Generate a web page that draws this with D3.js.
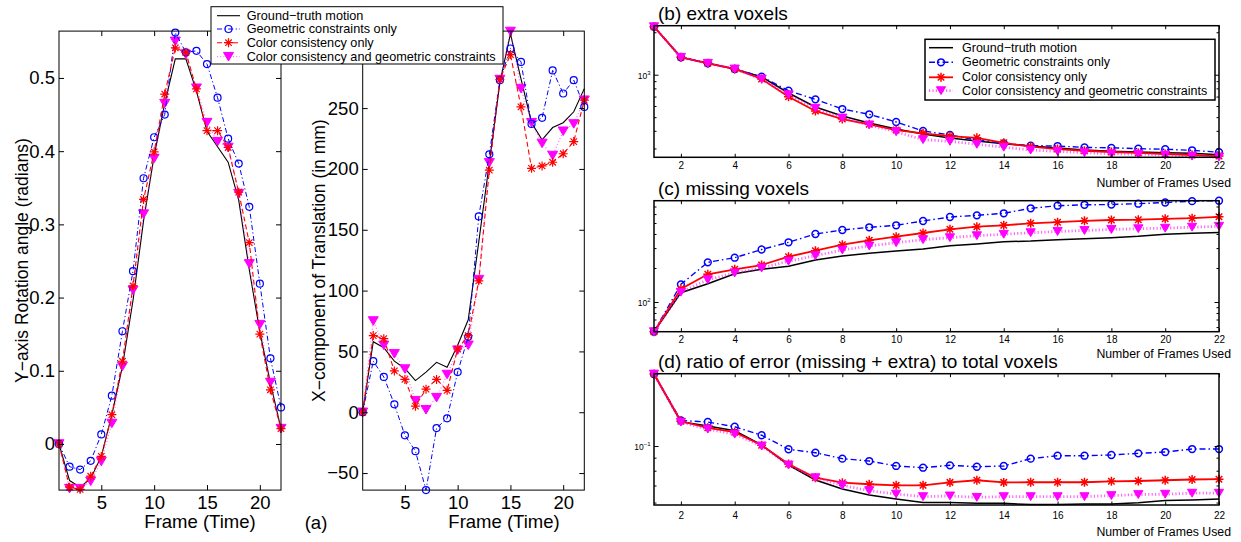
<!DOCTYPE html>
<html><head><meta charset="utf-8">
<script src="https://cdn.jsdelivr.net/npm/d3@7"></script>
<style>
body{margin:0;background:#fff}
svg{display:block}
text{font-family:"Liberation Sans",Arial,Helvetica,sans-serif;fill:#000}
</style>
</head><body>
<svg id="c" width="1241" height="542"></svg>
<script>
// ---------------- DATA ----------------
const frames = [1,2,3,4,5,6,7,8,9,10,11,12,13,14,15,16,17,18,19,20,21,22];
const frameTicks = [5,10,15,20];
const rotTicks = [0,0.1,0.2,0.3,0.4,0.5];
const transTicks = [-50,0,50,100,150,200,250];
const usedTicks = [2,4,6,8,10,12,14,16,18,20,22];
const legendLabels = ["Ground\u2212truth motion","Geometric constraints only","Color consistency only","Color consistency and geometric constraints"];

// (a) left: Y-axis rotation angle (radians)
const rotGT    = [0,-0.050,-0.059,-0.047,-0.017,0.040,0.106,0.196,0.305,0.394,0.465,0.526,0.526,0.482,0.427,0.406,0.385,0.333,0.238,0.153,0.083,0.021];
const rotGeo   = [0,-0.031,-0.035,-0.023,0.013,0.066,0.154,0.236,0.363,0.419,0.450,0.562,0.535,0.537,0.519,0.473,0.417,0.383,0.324,0.219,0.117,0.050];
const rotColor = [0,-0.059,-0.062,-0.044,-0.017,0.040,0.113,0.216,0.334,0.399,0.478,0.541,0.535,0.485,0.428,0.428,0.405,0.344,0.275,0.150,0.074,0.021];
const rotBoth  = [0,-0.061,-0.061,-0.051,-0.024,0.028,0.106,0.210,0.314,0.390,0.465,0.550,0.532,0.486,0.439,0.413,0.405,0.342,0.246,0.163,0.084,0.021];

// (a) right: X-component of translation (mm)
const transGT    = [0,58,53,42,36,26,33,41,37,55,76,140,205,271,311,274,238,224,234,238,247,266];
const transGeo   = [0,42,29,6.5,-19,-32,-64,-13,-5,33,62,161,212,273,299,288,237,242,281,262,273,251];
const transColor = [0,63,60.5,34,27,5,19,27,18,52,63,108,199,273.5,294,251,200.5,202.5,205.5,212.5,222.5,256.5];
const transBoth  = [0,75,55,48,35.5,9.5,2,12,31,51,55,109,205,273.5,313,266,238,221,211,231,237,256.5];

// (b) extra voxels
const extraGT    = [2190,1329,1205,1098,963,742,590,509,454,412,380,356,339,324,312,302,292,286,283,280,277,271];
const extraGeo   = [2190,1329,1205,1098,968,770,669,571,524,462,399,374,344,326,314,312,305,303,299,296,291,282];
const extraColor = [2190,1329,1205,1098,932,698,553,485,445,405,384,367,357,329,309,297,289,283,279,274,269.5,265];
const extraBoth  = [2190,1329,1205,1098,932,721,578,493,440,394,346,337,321,306,292,286,280,275,273,269.5,265,261];

// (c) missing voxels
const missGT    = [54.6,120.9,145.2,178,194.7,207,235.3,255.3,269.8,282.7,294.4,315,326.1,341.7,346.6,355.9,363.3,370.7,381.4,397.3,405.5,412.1];
const missGeo   = [54.6,143.4,224.5,246.6,291.4,337.6,399.7,433.7,458.2,477.3,521,565.1,585.1,609.5,674.9,711.6,724.8,729.2,741.2,759.5,781,788];
const missColor = [54.6,130.3,175.9,194.7,212.5,251.7,284.4,321.5,351.6,378.4,407.9,439.9,463.8,477.3,497.2,508.5,523.1,531.7,535,544.9,551.6,567.5];
const missBoth  = [54.6,122.1,157.5,180.6,199.9,229.7,256.9,288.5,313.1,334.9,355.9,370.7,386.2,397.3,410.5,420.7,429.3,438.1,445.3,449.9,459.2,467.7];

// (d) ratio of error to total voxels
const ratioGT    = [0.1915,0.1245,0.1198,0.1148,0.1009,0.0842,0.0736,0.0678,0.0643,0.0620,0.0601,0.0601,0.0596,0.0596,0.0589,0.0589,0.0592,0.0592,0.0599,0.0611,0.0614,0.0619];
const ratioGeo   = [0.1915,0.1259,0.1242,0.1190,0.1102,0.0971,0.0941,0.0892,0.0873,0.0835,0.0822,0.0840,0.0829,0.0835,0.0892,0.0916,0.0916,0.0922,0.0936,0.0947,0.0973,0.0973];
const ratioColor = [0.1915,0.1250,0.1179,0.1133,0.1007,0.0850,0.0751,0.0718,0.0708,0.0701,0.0701,0.0720,0.0734,0.0720,0.0721,0.0721,0.0721,0.0727,0.0729,0.0734,0.0739,0.0741];
const ratioBoth  = [0.1915,0.1240,0.1164,0.1113,0.1000,0.0842,0.0751,0.0701,0.0668,0.0648,0.0633,0.0637,0.0629,0.0633,0.0633,0.0633,0.0633,0.0639,0.0645,0.0647,0.0653,0.0653];

// ---------------- STYLES ----------------
const styleA = [
  {color:'#000', width:1.1},
  {color:'#0000ff', width:1, dash:'5,2.5,1.2,2.5', marker:'circle', msize:3.5, mwidth:1.2},
  {color:'#ff0000', width:1.1, dash:'5,3', marker:'star', msize:4.5, mwidth:1.2},
  {color:'#ff00ff', width:1.3, dash:'1,2.2', lineOpacity:0.55, marker:'tri', msize:5, mwidth:1}
];
const styleB = [
  {color:'#000', width:1.5},
  {color:'#0000ff', width:1.4, dash:'6,3,1.5,3', marker:'circle', msize:3.4, mwidth:1.5},
  {color:'#ff0000', width:1.8, marker:'star', msize:4.5, mwidth:1.5},
  {color:'#ff00ff', width:2.8, dash:'1.2,2.2', lineOpacity:0.6, marker:'tri', msize:4.6, mwidth:1}
];

const svg = d3.select('#c');
const numFmt = d => (d < 0 ? '\u2212' : '') + String(Math.abs(d));

function drawMarker(g, type, cx, cy, s, color, sw){
  if(type==='circle'){
    g.append('circle').attr('cx',cx).attr('cy',cy).attr('r',s).attr('fill','none').attr('stroke',color).attr('stroke-width',sw);
  } else if(type==='star'){
    const k = s*0.72;
    g.append('path').attr('transform',`translate(${cx},${cy})`)
      .attr('d',`M${-s},0H${s}M0,${-s}V${s}M${-k},${-k}L${k},${k}M${-k},${k}L${k},${-k}`)
      .attr('fill','none').attr('stroke',color).attr('stroke-width',sw);
  } else if(type==='tri'){
    const h = s*0.85;
    g.append('path').attr('transform',`translate(${cx},${cy})`)
      .attr('d',`M${-s},${-h}L${s},${-h}L0,${h}Z`)
      .attr('fill',color).attr('stroke',color).attr('stroke-width',sw).attr('stroke-linejoin','round');
  }
}

function drawSeries(g, x, y, vals, st){
  const line = d3.line().x((d,i)=>x(frames[i])).y(d=>y(d));
  g.append('path').attr('d',line(vals)).attr('fill','none')
    .attr('stroke',st.color).attr('stroke-width',st.width)
    .attr('stroke-dasharray',st.dash||null)
    .attr('stroke-opacity',st.lineOpacity||1);
  if(st.marker) vals.forEach((v,i)=>drawMarker(g, st.marker, x(frames[i]), y(v), st.msize, st.color, st.mwidth));
}

function styleAxisText(g, size){
  g.selectAll('text').attr('font-size',size).attr('font-family','"Liberation Sans",Arial,sans-serif').attr('fill','#000');
  g.select('.domain').remove();
  g.selectAll('line').attr('stroke','#000');
}

// ---------- (a) frame plots ----------
function framePlot(box, yDomain, yTicks, seriesVals, order, ylabel, ylabelX, xlabelX){
  const g = svg.append('g');
  const x = d3.scaleLinear().domain([1,22]).range([box.l, box.r]);
  const y = d3.scaleLinear().domain(yDomain).range([box.b, box.t]);
  order.forEach(i=>drawSeries(g, x, y, seriesVals[i], styleA[i]));
  g.append('rect').attr('x',box.l).attr('y',box.t).attr('width',box.r-box.l).attr('height',box.b-box.t)
    .attr('fill','none').attr('stroke','#000').attr('stroke-width',1);
  const ax = g.append('g').attr('transform',`translate(0,${box.b})`)
    .call(d3.axisBottom(x).tickValues(frameTicks).tickSize(-5).tickPadding(5.5).tickFormat(numFmt));
  styleAxisText(ax, 18.5);
  const axt = g.append('g').attr('transform',`translate(0,${box.t})`)
    .call(d3.axisTop(x).tickValues(frameTicks).tickSize(-5).tickFormat(''));
  styleAxisText(axt, 10);
  const ay = g.append('g').attr('transform',`translate(${box.l},0)`)
    .call(d3.axisLeft(y).tickValues(yTicks).tickSize(-5).tickPadding(4).tickFormat(numFmt));
  styleAxisText(ay, 18.5);
  const ayr = g.append('g').attr('transform',`translate(${box.r},0)`)
    .call(d3.axisRight(y).tickValues(yTicks).tickSize(-5).tickFormat(''));
  styleAxisText(ayr, 10);
  g.append('text').attr('transform',`translate(${ylabelX},${(box.t+box.b)/2}) rotate(-90)`)
    .attr('text-anchor','middle').attr('dominant-baseline','central').attr('font-size',17.5).text(ylabel);
  g.append('text').attr('x',xlabelX).attr('y',528).attr('text-anchor','middle').attr('font-size',18.5).text('Frame (Time)');
}

framePlot({l:59,r:281,t:31.1,b:490.1}, [-0.063,0.564], rotTicks,
  [rotGT,rotGeo,rotColor,rotBoth], [0,3,1,2], 'Y\u2212axis Rotation angle (radians)', 21.7, 200);
framePlot({l:362.7,r:584.3,t:31.1,b:490.1}, [-64,313.3], transTicks,
  [transGT,transGeo,transColor,transBoth], [0,3,1,2], 'X\u2212component of Translation (in mm)', 318.5, 504);
svg.append('text').attr('x',316).attr('y',529).attr('text-anchor','middle').attr('font-size',18.5).text('(a)');

// legend
function legend(lx0, ly0, lx1, ly1, rows, sx0, sx1, tx, fs, styles, bw){
  const g = svg.append('g');
  g.append('rect').attr('x',lx0).attr('y',ly0).attr('width',lx1-lx0).attr('height',ly1-ly0)
    .attr('fill','#fff').attr('stroke','#000').attr('stroke-width',bw);
  legendLabels.forEach((lab,i)=>{
    const st = styles[i], yy = rows[i];
    g.append('line').attr('x1',sx0).attr('x2',sx1).attr('y1',yy).attr('y2',yy)
      .attr('stroke',st.color).attr('stroke-width',st.width).attr('stroke-dasharray',st.dash||null)
      .attr('stroke-opacity',st.lineOpacity||1);
    if(st.marker) drawMarker(g, st.marker, (sx0+sx1)/2, yy, st.msize, st.color, st.mwidth);
    g.append('text').attr('x',tx).attr('y',yy).attr('dominant-baseline','central').attr('font-size',fs).text(lab);
  });
}
legend(211, 6.7, 503, 64, [15.7,29,42.7,56.7], 217, 240, 246.7, 12.7, styleA, 1);

// ---------- (b)(c)(d) log panels ----------
function logPanel(box, yDomain, major, base, exp, seriesVals, title, titleY, usedY, tickPad){
  const g = svg.append('g');
  const x = d3.scaleLinear().domain([1,22]).range([box.l, box.r]);
  const y = d3.scaleLog().domain(yDomain).range([box.b, box.t]);
  [0,1,2,3].forEach(i=>drawSeries(g, x, y, seriesVals[i], styleB[i]));
  g.append('rect').attr('x',box.l).attr('y',box.t).attr('width',box.r-box.l).attr('height',box.b-box.t)
    .attr('fill','none').attr('stroke','#000').attr('stroke-width',1.5);
  const ax = g.append('g').attr('transform',`translate(0,${box.b})`)
    .call(d3.axisBottom(x).tickValues(usedTicks).tickSize(-3.5).tickPadding(tickPad));
  styleAxisText(ax, 10);
  const axt = g.append('g').attr('transform',`translate(0,${box.t})`)
    .call(d3.axisTop(x).tickValues(usedTicks).tickSize(-3.5).tickFormat(''));
  styleAxisText(axt, 10);
  const minor = y.ticks().filter(v=>Math.abs(v-major)>1e-9);
  [[d3.axisLeft, box.l],[d3.axisRight, box.r]].forEach(([fn,pos])=>{
    const a1 = g.append('g').attr('transform',`translate(${pos},0)`)
      .call(fn(y).tickValues([major]).tickSize(-4.5).tickFormat(''));
    styleAxisText(a1, 10);
    const a2 = g.append('g').attr('transform',`translate(${pos},0)`)
      .call(fn(y).tickValues(minor).tickSize(-2.5).tickFormat(''));
    styleAxisText(a2, 10);
  });
  const t = g.append('text').attr('x',box.l-3.5).attr('y',y(major)+4).attr('text-anchor','end').attr('font-size',8.5);
  t.append('tspan').text(base);
  t.append('tspan').attr('dy',-4).attr('font-size',6).text(exp);
  g.append('text').attr('x',box.l+4).attr('y',titleY).attr('dominant-baseline','central').attr('font-size',19).text(title);
  g.append('text').attr('x',1231).attr('y',usedY).attr('text-anchor','end').attr('dominant-baseline','central').attr('font-size',12.3).text('Number of Frames Used');
}

logPanel({l:654,r:1219,t:25.7,b:157.3}, [259.6,2226], 1000, '10', '3',
  [extraGT,extraGeo,extraColor,extraBoth], '(b) extra voxels', 13.3, 183, 5);
logPanel({l:654,r:1219,t:200.7,b:331.7}, [54.6,788], 100, '10', '2',
  [missGT,missGeo,missColor,missBoth], '(c) missing voxels', 188, 354, 4.5);
logPanel({l:654,r:1219,t:373.7,b:505}, [0.0587,0.1921], 0.1, '10', '\u22121',
  [ratioGT,ratioGeo,ratioColor,ratioBoth], '(d) ratio of error (missing + extra) to total voxels', 361, 531.7, 6.5);

legend(925, 39.3, 1215, 100, [47.7,62.3,77.3,90.7], 929, 953, 962, 12.5, styleB, 1.5);
</script>
</body></html>
